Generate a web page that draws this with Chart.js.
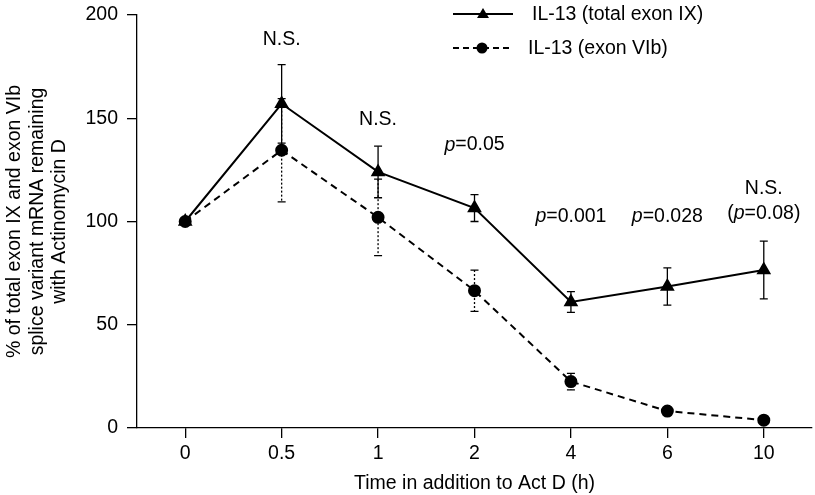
<!DOCTYPE html>
<html lang="en">
<head>
<meta charset="UTF-8">
<title>IL-13 mRNA decay</title>
<script src="https://cdn.jsdelivr.net/npm/chart.js"></script>
<style>
  html, body { margin: 0; padding: 0; background: #fff; overflow: hidden; }
  #wrap { width: 815px; height: 495px; }
  canvas { display: block; }
</style>
</head>
<body>
<div id="wrap"><canvas id="decayChart" width="815" height="495"></canvas></div>
<script>
  // data
  const timeLabels = ['0', '0.5', '1', '2', '4', '6', '10'];
  const totalExonIX = [100, 157, 124, 106.5, 61, 68.5, 76.5];
  const totalExonIXErr = [0, 19, 12.5, 6.5, 5, 9, 14];
  const exonVIb = [100, 134.5, 102, 66.5, 22.5, 8.2, 3.8];
  const exonVIbErr = [0, 25, 18.5, 10, 4, 0, 0];

  // significance labels: [category index, value, text]
  const pLabels = [
    [1, 188, 'N.S.'],
    [2, 149.5, 'N.S.'],
    [3, 137, '*p*=0.05'],
    [4, 102.3, '*p*=0.001'],
    [5, 102.3, '*p*=0.028'],
    [6, 116, 'N.S.'],
    [6, 104, '(*p*=0.08)']
  ];

  const FONT = '"Liberation Sans", Arial, Helvetica, sans-serif';
  const FS = 19.5;

  // error bars, drawn through the scales
  const errorBars = {
    id: 'errorBars',
    beforeDatasetsDraw(chart) {
      const ctx = chart.ctx;
      const x = chart.scales.x, y = chart.scales.y;
      const sets = [[exonVIb, exonVIbErr, [2, 2]], [totalExonIX, totalExonIXErr, []]];
      ctx.save();
      ctx.strokeStyle = '#000';
      ctx.lineWidth = 1.3;
      sets.forEach(([vals, errs, dash]) => {
        vals.forEach((v, i) => {
          if (!errs[i]) return;
          const px = x.getPixelForValue(i);
          const top = y.getPixelForValue(v + errs[i]);
          const bot = y.getPixelForValue(v - errs[i]);
          ctx.setLineDash(dash);
          ctx.beginPath();
          ctx.moveTo(px, top); ctx.lineTo(px, bot);
          ctx.stroke();
          ctx.setLineDash([]);
          ctx.beginPath();
          ctx.moveTo(px - 4, top); ctx.lineTo(px + 4, top);
          ctx.moveTo(px - 4, bot); ctx.lineTo(px + 4, bot);
          ctx.stroke();
        });
      });
      ctx.restore();
    }
  };

  // p-value text and legend
  const extras = {
    id: 'extras',
    afterDraw(chart) {
      const ctx = chart.ctx;
      const x = chart.scales.x, y = chart.scales.y;
      ctx.save();
      ctx.fillStyle = '#000';
      ctx.textBaseline = 'middle';
      pLabels.forEach(([i, v, txt]) => {
        const parts = txt.split('*');
        let w = 0;
        parts.forEach((p, k) => {
          ctx.font = (k % 2 ? 'italic ' : '') + FS + 'px ' + FONT;
          w += ctx.measureText(p).width;
        });
        let cx = x.getPixelForValue(i) - w / 2;
        const cy = y.getPixelForValue(v);
        ctx.textAlign = 'left';
        parts.forEach((p, k) => {
          ctx.font = (k % 2 ? 'italic ' : '') + FS + 'px ' + FONT;
          ctx.fillText(p, cx, cy);
          cx += ctx.measureText(p).width;
        });
      });

      // legend
      ctx.strokeStyle = '#000';
      ctx.lineWidth = 2;
      ctx.font = FS + 'px ' + FONT;
      ctx.beginPath();
      ctx.moveTo(453, 14); ctx.lineTo(513, 14);
      ctx.stroke();
      ctx.beginPath();
      ctx.moveTo(483, 8); ctx.lineTo(489, 18); ctx.lineTo(477, 18); ctx.closePath();
      ctx.fill();
      ctx.fillText('IL-13 (total exon IX)', 532, 15);

      ctx.setLineDash([6, 4]);
      ctx.beginPath();
      ctx.moveTo(453, 48); ctx.lineTo(511, 48);
      ctx.stroke();
      ctx.setLineDash([]);
      ctx.beginPath();
      ctx.arc(482, 48, 5.5, 0, Math.PI * 2);
      ctx.fill();
      ctx.fillText('IL-13 (exon VIb)', 528, 49);
      ctx.restore();
    }
  };

  const decayData = {
    labels: timeLabels,
    datasets: [{
      label: 'IL-13 (total exon IX)',
      data: totalExonIX,
      borderColor: '#000',
      backgroundColor: '#000',
      borderWidth: 2,
      pointStyle: 'triangle',
      pointRadius: 6.5,
      order: 1
    }, {
      label: 'IL-13 (exon VIb)',
      data: exonVIb,
      borderColor: '#000',
      backgroundColor: '#000',
      borderWidth: 2,
      borderDash: [7, 5],
      pointStyle: 'circle',
      pointRadius: 5.5,
      order: 0
    }]
  };

  const decayConfig = {
    type: 'line',
    data: decayData,
    options: {
      responsive: false,
      animation: false,
      layout: { autoPadding: false, padding: { top: 15, right: 3, left: 0, bottom: 0 } },
      plugins: { legend: { display: false }, tooltip: { enabled: false } },
      scales: {
        x: {
          offset: true,
          grid: { offset: false, drawOnChartArea: false, tickLength: 10, color: '#000', lineWidth: 1.3 },
          border: { color: '#000', width: 1.3 },
          ticks: { color: '#000', font: { family: FONT, size: FS }, padding: 4, maxRotation: 0 },
          title: { display: true, text: 'Time in addition to Act D (h)', color: '#000', font: { family: FONT, size: FS }, padding: 0 },
          afterFit(scale) { scale.height = 67; scale.paddingLeft = 0; scale.paddingRight = 0; }
        },
        y: {
          min: 0, max: 200,
          grid: { drawOnChartArea: false, tickLength: 10, color: '#000', lineWidth: 1.3 },
          border: { color: '#000', width: 1.3 },
          ticks: { stepSize: 50, color: '#000', font: { family: FONT, size: FS }, padding: 9 },
          title: {
            display: true,
            text: ['% of total exon IX and exon VIb', 'splice variant mRNA remaining', 'with Actinomycin D'],
            color: '#000', font: { family: FONT, size: FS, lineHeight: 1.17 }, padding: { top: 3, bottom: 0 }
          },
          afterFit(scale) { scale.width = 137; scale.paddingTop = 0; scale.paddingBottom = 0; }
        }
      }
    },
    plugins: [errorBars, extras]
  };

  var decayChart = new Chart(document.getElementById('decayChart'), decayConfig);
</script>
</body>
</html>
